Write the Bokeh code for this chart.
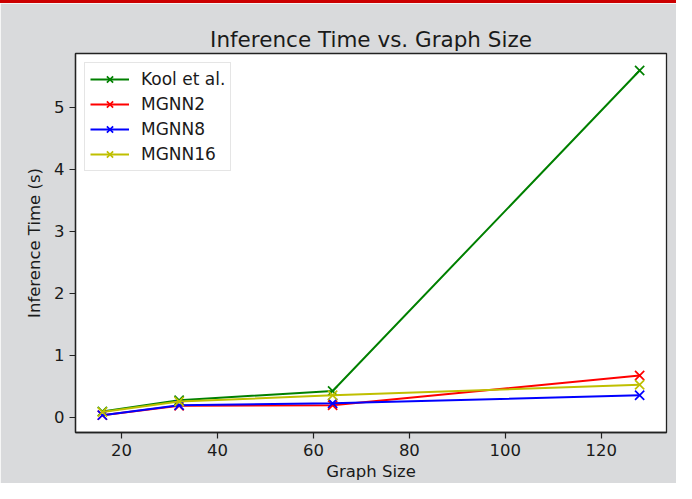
from bokeh.plotting import figure
from bokeh.models import Range1d, Legend, LegendItem, FixedTicker, Div
from bokeh.layouts import column
from bokeh.embed import file_html
from bokeh.resources import INLINE

sizes = [16, 32, 64, 128]
kool = [0.09, 0.27, 0.42, 5.59]
mgnn2 = [0.03, 0.18, 0.19, 0.67]
mgnn8 = [0.03, 0.19, 0.22, 0.35]
mgnn16 = [0.08, 0.25, 0.35, 0.52]
series_names = ["Kool et al.", "MGNN2", "MGNN8", "MGNN16"]
series_vals = [kool, mgnn2, mgnn8, mgnn16]
colors = ["#008000", "#ff0000", "#0000ff", "#bfbf00"]
x_ticks = [20, 40, 60, 80, 100, 120]
y_ticks = [0, 1, 2, 3, 4, 5]

bg = "#d9dadc"
font = "DejaVu Sans"

p = figure(width=676, height=480, output_backend="svg", toolbar_location=None,
           x_range=Range1d(10.4, 133.6), y_range=Range1d(-0.25, 5.865),
           min_border_left=75, min_border_right=10, min_border_top=50, min_border_bottom=50,
           title="Inference Time vs. Graph Size")
p.background_fill_color = "white"
p.border_fill_color = bg
p.outline_line_color = "#222222"
p.outline_line_width = 1.3
p.grid.visible = False

p.title.align = "center"
p.title.text_font = font
p.title.text_font_size = "21.5px"
p.title.text_font_style = "normal"
p.title.text_color = "#1a1a1a"
p.title.standoff = 4

for ax in (p.xaxis[0], p.yaxis[0]):
    ax.axis_label_text_font = font
    ax.axis_label_text_font_size = "16.5px"
    ax.axis_label_text_font_style = "normal"
    ax.axis_label_text_color = "#1a1a1a"
    ax.major_label_text_font = font
    ax.major_label_text_font_size = "16.5px"
    ax.major_label_text_color = "#1a1a1a"
    ax.major_tick_out = 6
    ax.major_tick_in = 0
    ax.minor_tick_out = 0
    ax.minor_tick_in = 0
    ax.axis_line_color = "#222222"
    ax.axis_line_width = 1.3
    ax.major_tick_line_color = "#222222"
    ax.major_tick_line_width = 1.2

p.xaxis.axis_label = "Graph Size"
p.yaxis.axis_label = "Inference Time (s)"
p.xaxis.ticker = FixedTicker(ticks=x_ticks)
p.yaxis.ticker = FixedTicker(ticks=y_ticks)
p.xaxis.major_label_standoff = 5
p.yaxis.major_label_standoff = 5
p.xaxis.axis_label_standoff = 3
p.yaxis.axis_label_standoff = 7

items = []
for name, vals, c in zip(series_names, series_vals, colors):
    r1 = p.line(sizes, vals, line_color=c, line_width=2)
    r2 = p.scatter(sizes, vals, marker="x", size=13, line_color=c, line_width=1.7)
    items.append(LegendItem(label=name, renderers=[r1, r2]))

legend = Legend(items=items, location="top_left")
legend.margin = 9
legend.padding = 5
legend.spacing = 3
legend.glyph_width = 39
legend.glyph_height = 22
legend.label_standoff = 12
legend.label_text_font = font
legend.label_text_font_size = "17px"
legend.label_text_color = "#1a1a1a"
legend.border_line_color = "#cccccc"
legend.border_line_width = 1
legend.background_fill_alpha = 0.85
p.add_layout(legend)

bar = Div(text="", width=676, height=3,
          styles={"background-color": "#cc0000", "margin": "0", "padding": "0"})

layout = column(bar, p, spacing=0)

open("out.html", "w").write(file_html(layout, INLINE))
